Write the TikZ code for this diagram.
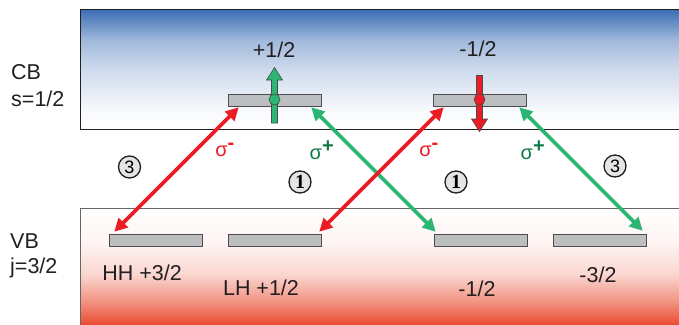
\documentclass[tikz,border=0pt]{standalone}
\usepackage{fontspec}
\setmainfont{Liberation Sans}
\newfontfamily\serifnum{Liberation Serif}
\usetikzlibrary{arrows.meta,shapes.geometric}
\definecolor{cbblue}{HTML}{3A6CB4}
\definecolor{vbred}{HTML}{E9472A}
\definecolor{barfill}{HTML}{BDBEC0}
\definecolor{bardraw}{HTML}{4D4D4F}
\definecolor{myred}{HTML}{EC1C24}
\definecolor{mygreen}{HTML}{2BB673}
\definecolor{darkgreen}{HTML}{0F7A45}
\definecolor{txt}{HTML}{231F20}
\pgfdeclareverticalshading{cbshade}{100bp}{
  color(0bp)=(white); color(25bp)=(white); color(32bp)=(white!97!cbblue);
  color(50bp)=(white!75!cbblue); color(62bp)=(white!52!cbblue);
  color(75bp)=(cbblue); color(100bp)=(cbblue)}
\pgfdeclareverticalshading{vbshade}{100bp}{
  color(0bp)=(vbred); color(25bp)=(vbred); color(35bp)=(white!40!vbred);
  color(47bp)=(white!78!vbred); color(60bp)=(white!94!vbred);
  color(75bp)=(white); color(100bp)=(white)}
\tikzset{
  level/.style={draw=bardraw, fill=barfill, line width=0.9pt, minimum width=93pt, minimum height=12pt, inner sep=0pt},
  lbl/.style={font=\fontsize{21.5}{22}\selectfont, text=txt, inner sep=0pt},
  sidelbl/.style={font=\fontsize{21.5}{27}\selectfont, text=txt, inner sep=0pt, anchor=west, align=left},
  redarr/.style={draw=myred, line width=3.6pt, {Triangle[length=13pt,width=13pt]}-{Triangle[length=13pt,width=13pt]}, shorten <=-1pt, shorten >=-1pt},
  greenarr/.style={draw=mygreen, line width=3.6pt, {Triangle[length=13pt,width=13pt]}-{Triangle[length=13pt,width=13pt]}, shorten <=-1pt, shorten >=-1pt},
  numcirc/.style={circle, draw=txt, fill=black!10, line width=1.3pt, minimum size=22pt, inner sep=0pt},
  sig/.style={font=\fontsize{20}{20}\selectfont, inner sep=0pt},
  spin/.style={line width=0.6pt, draw=black!70}
}
\begin{document}
\begin{tikzpicture}[x=1pt,y=-1pt]
\useasboundingbox (0,0) rectangle (679,324);
% CB band
\shade[shading=cbshade] (80,9) rectangle (682,129);
\draw[line width=0.9pt, draw=txt] (682,9) -- (80,9) -- (80,129) -- (682,129);
% VB band
\shade[shading=vbshade] (80,208) rectangle (682,326);
\draw[line width=0.9pt, draw=black!60] (682,208) -- (80,208) -- (80,330);
% side labels
\node[sidelbl] (cb) at (11,72) {CB};
\node[sidelbl] (s) at (11,99) {s=1/2};
\node[sidelbl] (vb) at (10,241) {VB};
\node[sidelbl] (j) at (10,268) {j=3/2};
% CB levels
\node[level] (cbu) at (274.5,100) {};
\node[level] (cbd) at (479.5,100) {};
% VB levels
\node[level] (hh) at (155.5,240.5) {};
\node[level] (lh) at (275,240.5) {};
\node[level] (vm) at (480.5,240.5) {};
\node[level] (vmm) at (600,240.5) {};
% labels
\node[lbl] (lu) at (274,50) {+1/2};
\node[lbl] (ld) at (478,49) {-1/2};
\node[lbl] (lhh) at (142,273) {HH +3/2};
\node[lbl] (llh) at (261,288) {LH +1/2};
\node[lbl] (lvm) at (477,289) {-1/2};
\node[lbl] (lvmm) at (598,275) {-3/2};
% spin up (green)
\filldraw[spin, fill=mygreen] (271.5,123) -- (271.5,80) -- (266.5,80) -- (274.5,67.5) -- (282.5,80) -- (277.5,80) -- (277.5,123) -- cycle;
\node[circle, spin, fill=mygreen, minimum size=11pt, inner sep=0pt] (su) at (274.5,99.5) {};
% spin down (red)
\filldraw[spin, fill=myred] (476.5,75.5) -- (476.5,119) -- (471.5,119) -- (479.5,131.5) -- (487.5,119) -- (482.5,119) -- (482.5,75.5) -- cycle;
\node[circle, spin, fill=myred, minimum size=11pt, inner sep=0pt] (sd) at (479.5,99.5) {};
% transition coordinates
\coordinate (a1) at (115,231);
\coordinate (a2) at (238,108);
\coordinate (b1) at (320,231);
\coordinate (b2) at (443,108);
\coordinate (c1) at (312,108);
\coordinate (c2) at (435,231);
\coordinate (d1) at (520,108);
\coordinate (d2) at (642,230);
\draw[redarr] (a1) -- (a2);
\draw[greenarr] (c1) -- (c2);
\draw[redarr] (b1) -- (b2);
\draw[greenarr] (d1) -- (d2);
% sigma labels
\node[sig, text=myred] (s1) at (225,150) {σ$^{\textbf{-}}$};
\node[sig, text=darkgreen] (s2) at (322,150) {σ$^{\textbf{+}}$};
\node[sig, text=myred] (s3) at (429,150) {σ$^{\textbf{-}}$};
\node[sig, text=darkgreen] (s4) at (533,150) {σ$^{\textbf{+}}$};
% numbers
\node[numcirc, font=\fontsize{18}{18}\selectfont] (n3l) at (129.5,167) {3};
\node[numcirc, font=\fontsize{20}{20}\selectfont\serifnum\bfseries] (n1l) at (300,182) {1};
\node[numcirc, font=\fontsize{20}{20}\selectfont\serifnum\bfseries] (n1r) at (456,182) {1};
\node[numcirc, font=\fontsize{18}{18}\selectfont] (n3r) at (615,166) {3};
\end{tikzpicture}
\end{document}
